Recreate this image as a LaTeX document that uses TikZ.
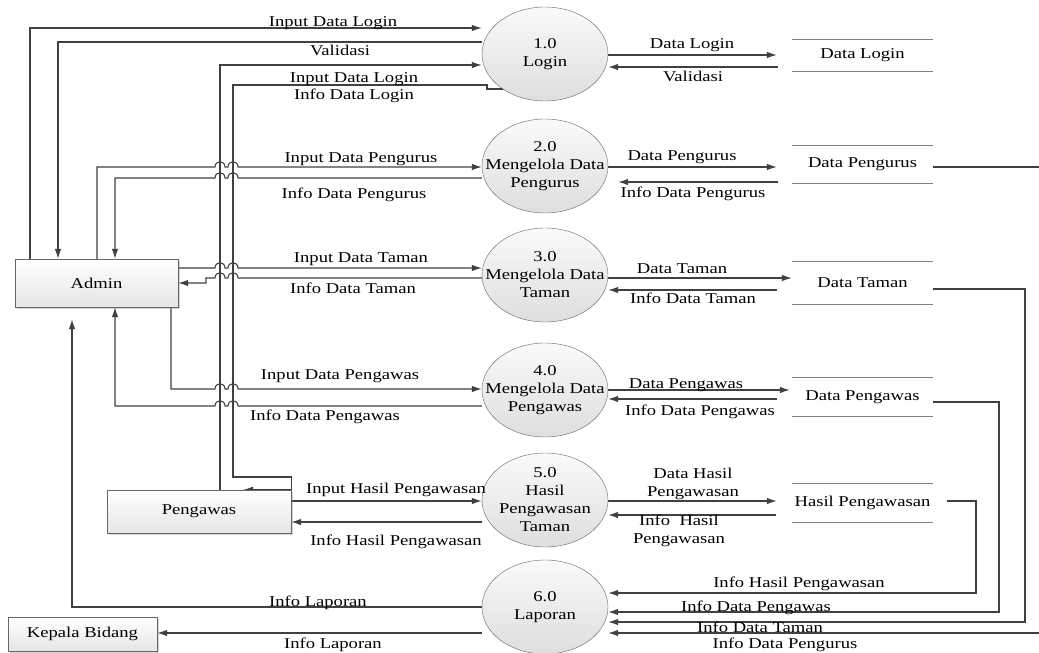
\documentclass[tikz,border=0pt]{standalone}
\usepackage{fontspec}
\setmainfont{Liberation Serif}[FakeStretch=1.24]
\usetikzlibrary{arrows.meta,shapes.geometric,shadows,backgrounds}

\newcommand\dfdfont{\fontsize{15}{18}\selectfont}

\tikzset{
  proc/.style={ellipse, draw=black!60, top color=black!2, bottom color=black!13,
    minimum width=126pt, minimum height=94pt, inner xsep=-18pt, inner ysep=-4pt,
    align=center, font=\dfdfont},
  ent/.style={rectangle, draw=black!60, top color=white, bottom color=black!10,
    drop shadow={shadow xshift=1.5pt, shadow yshift=-1.5pt, opacity=0.35}, font=\dfdfont},
  store/.style={minimum width=141pt, minimum height=38pt, inner sep=0pt, font=\dfdfont},
  storeline/.style={draw=black!50, line width=1pt},
  lbl/.style={anchor=base, inner sep=0pt, font=\dfdfont},
  lbltwo/.style={inner sep=0pt, align=center, font=\dfdfont},
  link/.style={draw=black!75, line width=1.1pt},
  flow/.style={link, -{Latex[length=10pt,width=6.5pt]}},
}

\begin{document}
\begin{tikzpicture}[x=1pt, y=-1pt]
\useasboundingbox (0,0) rectangle (1039,653);

% processes
\node[proc] (p1) at (545,54) {1.0\\Login};
\node[proc] (p2) at (545,166) {2.0\\Mengelola Data\\Pengurus};
\node[proc] (p3) at (545,275) {3.0\\Mengelola Data\\Taman};
\node[proc] (p4) at (545,390) {4.0\\Mengelola Data\\Pengawas};
\node[proc] (p5) at (545,500) {5.0\\Hasil\\Pengawasan\\Taman};
\node[proc] (p6) at (545,607) {6.0\\Laporan};

% external entities
\node[ent, minimum width=163pt, minimum height=48pt] (admin) at (96.5,283) {Admin};
\node[ent, minimum width=184pt, minimum height=43pt] (peng) at (199,511.5) {Pengawas};
\node[ent, minimum width=149pt, minimum height=34pt] (kepala) at (82.5,634) {Kepala Bidang};

% data stores
\node[store, minimum height=31pt] (dl) at (862.5,55.5) {Data Login};
\node[store, minimum height=37pt] (dp) at (862.5,164.5) {Data Pengurus};
\node[store, minimum height=42pt] (dt) at (862.5,283) {Data Taman};
\node[store] (dpw) at (862.5,397) {Data Pengawas};
\node[store] (dhp) at (862.5,503) {Hasil Pengawasan};
\foreach \s in {dl,dp,dt,dpw,dhp}
  \draw[storeline] (\s.north west) -- (\s.north east) (\s.south west) -- (\s.south east);

% flows
\begin{scope}[on background layer]
\clip (0,0) rectangle (1039,653);
% admin <-> login
\draw[flow] (admin.north -| 30,0) |- (p1.west |- 0,28);
\draw[flow] (p1.west |- 0,42) -| (admin.north -| 58,0);
% pengawas <-> login
\draw[flow] (peng.north -| 220,0) |- (p1.west |- 0,65);
\draw[flow] (p1.center |- 0,89) -- (487,89) -- (487,85) -- (233,85) -- (233,477)
  -| (peng.north east) -- (peng.north -| 243,0);
% admin <-> pengurus
\draw[flow] (admin.north -| 97,0) -- (97,167)
  \foreach \hx in {220,233} { -- (\hx-5,167) .. controls (\hx-5,160) and (\hx+5,160) .. (\hx+5,167) }
  -- (p2.west |- 0,167);
\draw[flow] (p2.west |- 0,178)
  \foreach \hx in {233,220} { -- (\hx+5,178) .. controls (\hx+5,171) and (\hx-5,171) .. (\hx-5,178) }
  -- (115,178) -- (admin.north -| 115,0);
% admin <-> taman
\draw[flow] (admin.east |- 0,268)
  \foreach \hx in {220,233} { -- (\hx-5,268) .. controls (\hx-5,261) and (\hx+5,261) .. (\hx+5,268) }
  -- (p3.west |- 0,268);
\draw[flow] (p3.west |- 0,278)
  \foreach \hx in {233,220} { -- (\hx+5,278) .. controls (\hx+5,271) and (\hx-5,271) .. (\hx-5,278) }
  -- (206,278) -- (206,283) -- (admin.east |- 0,283);
% admin <-> pengawas data
\draw[flow] (admin.south -| 171,0) -- (171,389)
  \foreach \hx in {220,233} { -- (\hx-5,389) .. controls (\hx-5,382) and (\hx+5,382) .. (\hx+5,389) }
  -- (p4.west |- 0,389);
\draw[flow] (p4.west |- 0,406)
  \foreach \hx in {233,220} { -- (\hx+5,406) .. controls (\hx+5,399) and (\hx-5,399) .. (\hx-5,406) }
  -- (115,406) -- (admin.south -| 115,0);
% pengawas <-> hasil
\draw[flow] (peng.east |- 0,501) -- (p5.west |- 0,501);
\draw[flow] (p5.west |- 0,522) -- (peng.east |- 0,522);
% laporan
\draw[flow, shorten >=12pt] (p6.west |- 0,607) -| (admin.south -| 72,0);
\draw[flow] (p6.west |- 0,633) -- (kepala.east |- 0,633);
% processes <-> stores
\draw[flow, shorten >=15pt] (p1.east |- 0,55) -- (dl.west |- 0,55);
\draw[flow, shorten <=14pt] (dl.west |- 0,67) -- (p1.east |- 0,67);
\draw[flow, shorten >=15pt] (p2.east |- 0,167) -- (dp.west |- 0,167);
\draw[flow, shorten <=14pt, shorten >=10pt] (dp.west |- 0,182) -- (p2.east |- 0,182);
\draw[flow] (p3.east |- 0,278) -- (dt.west |- 0,278);
\draw[flow, shorten <=15pt] (dt.west |- 0,290) -- (p3.east |- 0,290);
\draw[flow, shorten >=2pt] (p4.east |- 0,390) -- (dpw.west |- 0,390);
\draw[flow, shorten <=15pt] (dpw.west |- 0,399) -- (p4.east |- 0,399);
\draw[flow, shorten >=15pt] (p5.east |- 0,501) -- (dhp.west |- 0,501);
\draw[flow, shorten <=16pt] (dhp.west |- 0,515) -- (p5.east |- 0,515);
% stores -> laporan
\draw[flow, shorten <=14pt] (dhp.east |- 0,501) -- (976,501) |- (p6.east |- 0,593);
\draw[flow] (dpw.east |- 0,402) -- (999,402) |- (p6.east |- 0,612);
\draw[flow] (dt.east |- 0,289) -- (1025,289) |- (p6.east |- 0,622);
\draw[flow] (dp.east |- 0,167) -- (1046,167) |- (p6.east |- 0,633);
\end{scope}

% labels
\node[lbl] (lInLogA) at (333,27) {Input Data Login};
\node[lbl] (lValA) at (340,55) {Validasi};
\node[lbl] (lInLogB) at (354,82) {Input Data Login};
\node[lbl] (lInfoLog) at (354,99) {Info Data Login};
\node[lbl] (lInPgr) at (361,162) {Input Data Pengurus};
\node[lbl] (lInfoPgrA) at (354,198) {Info Data Pengurus};
\node[lbl] (lInTmn) at (361,262) {Input Data Taman};
\node[lbl] (lInfoTmnA) at (353,293) {Info Data Taman};
\node[lbl] (lInPgw) at (340,379) {Input Data Pengawas};
\node[lbl] (lInfoPgwA) at (325,420) {Info Data Pengawas};
\node[lbl] (lInHsl) at (396,493) {Input Hasil Pengawasan};
\node[lbl] (lInfoHslA) at (396,545) {Info Hasil Pengawasan};
\node[lbl] (lLapA) at (318,606) {Info Laporan};
\node[lbl] (lLapB) at (333,648) {Info Laporan};

\node[lbl] (lDl) at (692,48) {Data Login};
\node[lbl] (lValB) at (693,81) {Validasi};
\node[lbl] (lDp) at (682,160) {Data Pengurus};
\node[lbl] (lInfoPgrB) at (693,197) {Info Data Pengurus};
\node[lbl] (lDt) at (682,273) {Data Taman};
\node[lbl] (lInfoTmnB) at (693,303) {Info Data Taman};
\node[lbl] (lDpw) at (686,388) {Data Pengawas};
\node[lbl] (lInfoPgwB) at (700,415) {Info Data Pengawas};
\node[lbltwo] (lDhp) at (693,484) {Data Hasil\\Pengawasan};
\node[lbltwo] (lInfoHslB) at (679,531) {Info\ \ Hasil\\Pengawasan};

\node[lbl] (lInfoHslC) at (799,587) {Info Hasil Pengawasan};
\node[lbl] (lInfoPgwC) at (756,611) {Info Data Pengawas};
\node[lbl] (lInfoTmnC) at (760,632) {Info Data Taman};
\node[lbl] (lInfoPgrC) at (785,648) {Info Data Pengurus};
\end{tikzpicture}
\end{document}
